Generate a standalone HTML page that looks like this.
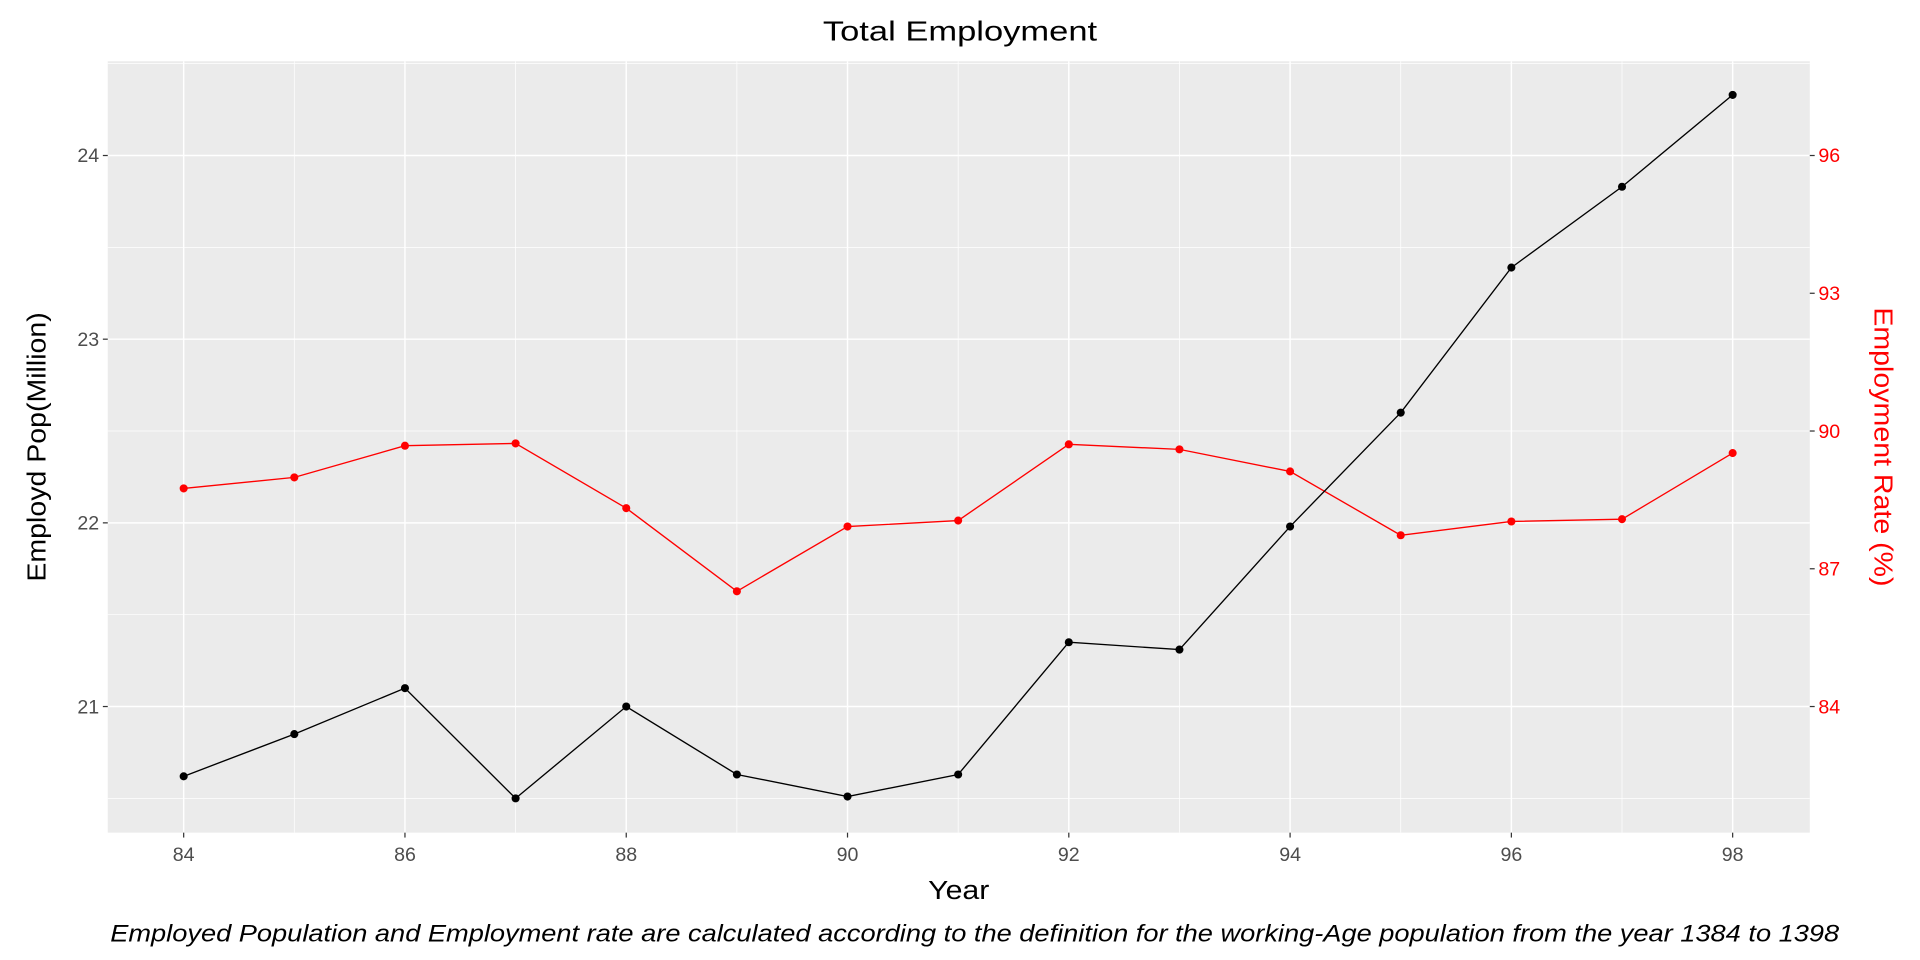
<!DOCTYPE html>
<html><head><meta charset="utf-8"><style>
html,body{margin:0;padding:0;background:#fff;}
svg{display:block;font-family:"Liberation Sans",Arial,sans-serif;}
</style></head><body>
<svg id="chart" width="1920" height="960" viewBox="0 0 1568 784" xmlns="http://www.w3.org/2000/svg">
<rect width="1568" height="784" fill="#fff"/>
<text x="784" y="33" font-size="23" text-anchor="middle" fill="#000" textLength="224" lengthAdjust="spacingAndGlyphs">Total Employment</text>
<rect x="88" y="50" width="1390" height="630" fill="#ebebeb"/>
<g id="grid"></g>
<g id="axes"></g>
<g id="series"></g>
<text x="783" y="734" font-size="21" text-anchor="middle" textLength="50" lengthAdjust="spacingAndGlyphs">Year</text>
<text transform="translate(37,365) rotate(-90)" font-size="21" text-anchor="middle" textLength="220" lengthAdjust="spacingAndGlyphs">Employd Pop(Million)</text>
<text transform="translate(1531,365) rotate(90)" font-size="21" text-anchor="middle" fill="#ff0000" textLength="228" lengthAdjust="spacingAndGlyphs">Employment Rate (%)</text>
<text x="90" y="769" font-size="20" font-style="italic" textLength="1412" lengthAdjust="spacingAndGlyphs">Employed Population and Employment rate are calculated according to the definition for the working-Age population from the year 1384 to 1398</text>
</svg>
<script>
const years = [84,85,86,87,88,89,90,91,92,93,94,95,96,97,98];
const employedPop = [20.62,20.85,21.1,20.5,21.0,20.63,20.51,20.63,21.35,21.31,21.98,22.6,23.39,23.83,24.33];
const employmentRate = [88.75,88.99,89.68,89.73,88.32,86.51,87.92,88.05,89.71,89.6,89.12,87.73,88.03,88.08,89.52];
const xTicks = [84,86,88,90,92,94,96,98];
const yLeftTicks = [21,22,23,24];
const yRightTicks = [84,87,90,93,96];

const NS="http://www.w3.org/2000/svg";
const X0=88,X1=1478,Y0=50,Y1=680;
function xs(v){return 150+(v-84)*(1415-150)/14;}
function yl(v){return 577-(v-21)*150;}
function yr(v){return 577-(v-84)*37.5;}
function mk(tag,attrs,parent){const e=document.createElementNS(NS,tag);for(const k in attrs)e.setAttribute(k,attrs[k]);parent.appendChild(e);return e;}
const grid=document.getElementById('grid'),axes=document.getElementById('axes'),series=document.getElementById('series');
for(let v=20.5;v<=24.5;v+=1){const y=yl(v);if(y<Y0||y>Y1)continue;const l=mk('line',{x1:X0,x2:X1,y1:y,y2:y,stroke:'#fff','stroke-width':0.6},grid);

}
for(let v=85;v<=97;v+=2){const x=xs(v);const l=mk('line',{x1:x,x2:x,y1:Y0,y2:Y1,stroke:'#fff','stroke-width':0.6},grid);

}
yLeftTicks.forEach(v=>{const y=yl(v);const l=mk('line',{x1:X0,x2:X1,y1:y,y2:y,stroke:'#fff','stroke-width':1.2},grid);


const t=mk('line',{x1:X0-4,x2:X0,y1:y,y2:y,stroke:'#333','stroke-width':1},axes);


const tx=mk('text',{x:X0-7,y:y+5.5,'font-size':16,'text-anchor':'end',fill:'#4d4d4d'},axes);tx.textContent=v;

});
yRightTicks.forEach(v=>{const y=yr(v);const t=mk('line',{x1:X1,x2:X1+4,y1:y,y2:y,stroke:'#333','stroke-width':1},axes);


const tx=mk('text',{x:X1+7,y:y+5.5,'font-size':16,fill:'#ff0000'},axes);tx.textContent=v;

});
xTicks.forEach(v=>{const x=xs(v);const l=mk('line',{x1:x,x2:x,y1:Y0,y2:Y1,stroke:'#fff','stroke-width':1.2},grid);


const t=mk('line',{x1:x,x2:x,y1:Y1,y2:Y1+4,stroke:'#333','stroke-width':1},axes);


const tx=mk('text',{x:x,y:Y1+23,'font-size':16,'text-anchor':'middle',fill:'#4d4d4d'},axes);tx.textContent=v;

});
function draw(vals,ysc,color,name){
const pts=years.map((yr_,i)=>xs(yr_)+','+ysc(vals[i])).join(' ');
const pl=mk('polyline',{points:pts,fill:'none',stroke:color,'stroke-width':1.1},series);


years.forEach((yv,i)=>{const c=mk('circle',{cx:xs(yv),cy:ysc(vals[i]),r:3.3,fill:color},series);

});}
draw(employmentRate,yr,'#ff0000','employment-rate');
draw(employedPop,yl,'#000000','employed-pop');
</script>
</body></html>
